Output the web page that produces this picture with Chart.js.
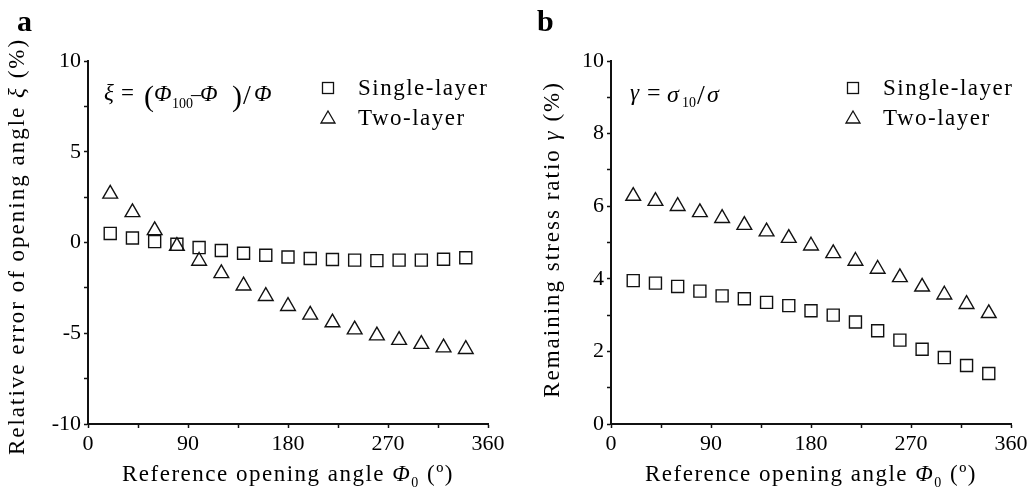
<!DOCTYPE html>
<html lang="en">
<head>
<meta charset="UTF-8">
<title>Opening angle error and remaining stress ratio</title>
<script src="https://cdn.jsdelivr.net/npm/chart.js@4.4.1/dist/chart.umd.min.js"></script>
<style>
    body { margin: 0; background: #fff; }
    .wrap { position: relative; width: 1032px; height: 490px; }
    .panel { position: absolute; top: 0; height: 490px; }
    #panelA { left: 0; width: 516px; }
    #panelB { left: 520px; width: 512px; }
</style>
</head>
<body>
<div class="wrap">
    <div class="panel" id="panelA"><canvas id="chartA"></canvas></div>
    <div class="panel" id="panelB"><canvas id="chartB"></canvas></div>
</div>
<script>
// reference opening angle (deg)
const angles = [20, 40, 60, 80, 100, 120, 140, 160, 180, 200, 220, 240, 260, 280, 300, 320, 340];

// panel a: relative error of opening angle (%)
const errSingle = [0.50, 0.25, 0.05, -0.10, -0.28, -0.44, -0.59, -0.70, -0.80, -0.88, -0.94, -0.97, -1.00, -0.97, -0.97, -0.92, -0.84];
const errTwo = [2.68, 1.66, 0.67, -0.20, -1.02, -1.70, -2.38, -2.96, -3.51, -3.99, -4.41, -4.80, -5.13, -5.38, -5.60, -5.79, -5.88];

// panel b: remaining stress ratio (%)
const ratioSingle = [3.95, 3.88, 3.79, 3.66, 3.53, 3.45, 3.35, 3.26, 3.12, 3.00, 2.81, 2.57, 2.31, 2.06, 1.83, 1.61, 1.39];
const ratioTwo = [6.28, 6.14, 6.00, 5.83, 5.67, 5.48, 5.30, 5.12, 4.91, 4.70, 4.49, 4.27, 4.04, 3.78, 3.56, 3.30, 3.05];

// tick labels
const xTickLabels = [0, 90, 180, 270, 360];
const yTickLabelsA = [-10, -5, 0, 5, 10];
const yTickLabelsB = [0, 2, 4, 6, 8, 10];

const seriesNames = ['Single-layer', 'Two-layer'];

const SERIF = "'Liberation Serif', 'Times New Roman', serif";
Chart.defaults.font.family = SERIF;
Chart.defaults.color = '#000';

function fontStr(size, style) {
    return `${style || 'normal'} ${size}px ${SERIF}`;
}

// draws a row of text pieces (mixed italic / subscript) centred on x
function drawSegs(ctx, segs, x, y) {
    let total = 0;
    segs.forEach(s => {
        ctx.font = fontStr(s.size, s.style);
        s.w = ctx.measureText(s.text).width;
        total += s.w;
    });
    let cx = x - total / 2;
    ctx.textAlign = 'left';
    segs.forEach(s => {
        ctx.font = fontStr(s.size, s.style);
        ctx.fillText(s.text, cx, y + (s.dy || 0));
        cx += s.w;
    });
}

const annotPlugin = {
    id: 'annot',
    afterDraw(chart, args, opts) {
        const ctx = chart.ctx;
        const area = chart.chartArea;
        ctx.save();
        ctx.fillStyle = '#000';
        ctx.strokeStyle = '#111';
        ctx.letterSpacing = '1.5px';
        ctx.textBaseline = 'alphabetic';

        // x title
        drawSegs(ctx, [
            { text: 'Reference opening angle ', size: 23 },
            { text: 'Φ', size: 23, style: 'italic' },
            { text: '0', size: 14, dy: 6 },
            { text: ' (º)', size: 23 }
        ], (area.left + area.right) / 2, 481);

        // y title
        ctx.save();
        ctx.letterSpacing = '2px';
        ctx.translate(opts.yTitleX, (area.top + area.bottom) / 2 + opts.yTitleShift);
        ctx.rotate(-Math.PI / 2);
        ctx.textBaseline = 'middle';
        drawSegs(ctx, opts.yTitle, 0, 0);
        ctx.restore();

        // legend
        ctx.lineWidth = 1.3;
        const lx = opts.legendX;
        ctx.strokeRect(lx - 5.5, 82.5, 11, 11);
        ctx.beginPath();
        ctx.moveTo(lx, 111);
        ctx.lineTo(lx + 7, 123);
        ctx.lineTo(lx - 7, 123);
        ctx.closePath();
        ctx.stroke();
        ctx.font = fontStr(23);
        ctx.textAlign = 'left';
        ctx.fillText(seriesNames[0], lx + 30, 95);
        ctx.fillText(seriesNames[1], lx + 30, 125);

        // formula
        ctx.letterSpacing = '0px';
        opts.formula.forEach(p => {
            ctx.font = fontStr(p.size, p.style);
            ctx.fillText(p.text, p.x, p.y);
        });

        // panel letter
        ctx.font = fontStr(30, 'bold');
        ctx.fillText(opts.letter, 17, 31);
        ctx.restore();
    }
};

function makeChart(id, cfg) {
    const ctx = document.getElementById(id).getContext('2d');
    return new Chart(ctx, {
        type: 'scatter',
        data: {
            datasets: [
                {
                    label: seriesNames[0],
                    data: angles.map((a, i) => ({ x: a, y: cfg.single[i] })),
                    pointStyle: 'rect',
                    pointRadius: 8.5,
                    borderColor: '#111',
                    backgroundColor: 'rgba(0,0,0,0)',
                    borderWidth: 1.4
                },
                {
                    label: seriesNames[1],
                    data: angles.map((a, i) => ({ x: a, y: cfg.two[i] })),
                    pointStyle: 'triangle',
                    pointRadius: 8.5,
                    borderColor: '#111',
                    backgroundColor: 'rgba(0,0,0,0)',
                    borderWidth: 1.4
                }
            ]
        },
        options: {
            responsive: true,
            maintainAspectRatio: false,
            animation: false,
            layout: { padding: { top: 61, right: cfg.padRight, left: 0, bottom: 0 } },
            scales: {
                x: {
                    type: 'linear',
                    min: 0,
                    max: 360,
                    afterFit: s => { s.height = 66; },
                    border: { display: true, color: '#111', width: 2 },
                    grid: { drawOnChartArea: false, drawTicks: true, tickLength: 4, color: '#111', tickWidth: 1.5 },
                    ticks: {
                        stepSize: 45,
                        padding: 3,
                        maxRotation: 0,
                        color: '#000',
                        font: { size: 22 },
                        callback: v => xTickLabels.includes(v) ? String(v) : ''
                    }
                },
                y: {
                    type: 'linear',
                    min: cfg.yMin,
                    max: cfg.yMax,
                    afterFit: s => { s.width = cfg.yWidth; },
                    border: { display: true, color: '#111', width: 2 },
                    grid: { drawOnChartArea: false, drawTicks: true, tickLength: 4, color: '#111', tickWidth: 1.5 },
                    ticks: {
                        stepSize: cfg.yStep,
                        padding: 3,
                        color: '#000',
                        font: { size: 22 },
                        callback: v => cfg.yLabels.includes(v) ? String(v) : ''
                    }
                }
            },
            plugins: {
                legend: { display: false },
                tooltip: { enabled: false },
                annot: cfg.annot
            }
        },
        plugins: [annotPlugin]
    });
}

makeChart('chartA', {
    single: errSingle,
    two: errTwo,
    yMin: -10, yMax: 10, yStep: 2.5,
    yLabels: yTickLabelsA,
    yWidth: 88,
    padRight: 28,
    annot: {
        letter: 'a',
        yTitleX: 18,
        yTitleShift: 4,
        yTitle: [
            { text: 'Relative error of opening angle ', size: 23 },
            { text: 'ξ', size: 23, style: 'italic' },
            { text: ' (%)', size: 23 }
        ],
        legendX: 328,
        formula: [
            { text: 'ξ', size: 23, style: 'italic', x: 104, y: 100 },
            { text: '=', size: 23, x: 121, y: 100 },
            { text: '(', size: 30, x: 144, y: 106 },
            { text: 'Φ', size: 23, style: 'italic', x: 154, y: 101 },
            { text: '100', size: 14, x: 172, y: 108 },
            { text: '–', size: 20, x: 191, y: 101 },
            { text: 'Φ', size: 23, style: 'italic', x: 200, y: 101 },
            { text: ')', size: 30, x: 232, y: 106 },
            { text: '/', size: 28, x: 243, y: 104 },
            { text: 'Φ', size: 23, style: 'italic', x: 254, y: 101 }
        ]
    }
});

makeChart('chartB', {
    single: ratioSingle,
    two: ratioTwo,
    yMin: 0, yMax: 10, yStep: 1,
    yLabels: yTickLabelsB,
    yWidth: 91,
    padRight: 21,
    annot: {
        letter: 'b',
        yTitleX: 33,
        yTitleShift: -3,
        yTitle: [
            { text: 'Remaining stress ratio ', size: 23 },
            { text: 'γ', size: 23, style: 'italic' },
            { text: ' (%)', size: 23 }
        ],
        legendX: 333,
        formula: [
            { text: 'γ', size: 23, style: 'italic', x: 110, y: 100 },
            { text: '=', size: 24, x: 127, y: 100 },
            { text: 'σ', size: 24, style: 'italic', x: 147, y: 102 },
            { text: '10', size: 14, x: 162, y: 107 },
            { text: '/', size: 28, x: 177, y: 104 },
            { text: 'σ', size: 24, style: 'italic', x: 187, y: 102 }
        ]
    }
});
</script>
</body>
</html>
